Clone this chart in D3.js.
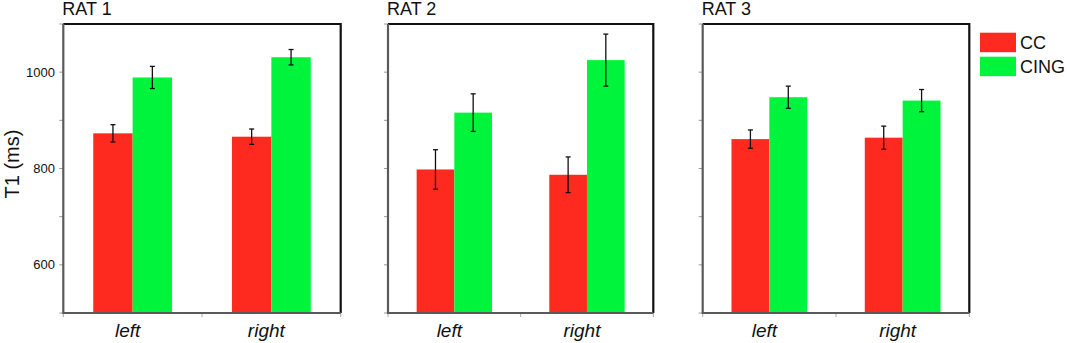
<!DOCTYPE html>
<html><head><meta charset="utf-8">
<script src="https://cdn.jsdelivr.net/npm/d3@7"></script>
<style>body{margin:0;background:#fff}svg{display:block;font-family:"Liberation Sans",Arial,sans-serif}</style>
</head><body><svg id="c" width="1067" height="343"></svg>
<script>
const panels = ["RAT 1", "RAT 2", "RAT 3"];
const categories = ["left", "right"];
const series = ["CC", "CING"];
const colors = ["#ff2a1f", "#00f43c"];
// values[panel][category][series]
const means = [
  [[873, 989], [866, 1031]],
  [[798, 916], [787, 1025]],
  [[861, 948], [864, 941]]
];
const errors = [
  [[18, 23], [16, 16]],
  [[41, 39], [37, 54]],
  [[19, 23], [24, 23]]
];
const yDomain = [500, 1100];
const yTicks = [500, 600, 700, 800, 900, 1000, 1100];
const yTickLabels = [600, 800, 1000];
const yLabel = "T1 (ms)";

const svg = d3.select("#c");
const panelX = [[63.3, 340.7], [388, 653.3], [702.7, 969.3]];
const plotTop = 24, plotBottom = 313;
const y = d3.scaleLinear().domain(yDomain).range([plotBottom, plotTop]);

panels.forEach((name, pi) => {
  const [x0p, x1p] = panelX[pi];
  const g = svg.append("g");
  const x0 = d3.scaleBand().domain(categories).range([x0p, x1p]).padding(0);
  const x1 = d3.scaleBand().domain(series).range([0, x0.bandwidth()]).paddingInner(0).paddingOuter(0.76);

  // y ticks
  g.selectAll(".yt").data(yTicks).enter().append("line")
    .attr("x1", x0p - 4).attr("x2", x0p).attr("y1", d => y(d)).attr("y2", d => y(d))
    .attr("stroke", "#999").attr("stroke-width", 1);
  if (pi === 0) {
    g.selectAll(".yl").data(yTickLabels).enter().append("text")
      .attr("x", 55).attr("y", d => y(d)).attr("dy", "0.35em")
      .attr("text-anchor", "end").attr("font-size", 13).attr("fill", "#111")
      .text(d => d);
    svg.append("text").attr("transform", `translate(19,164) rotate(-90)`)
      .attr("text-anchor", "middle").attr("font-size", 20).attr("fill", "#111").text(yLabel);
  }
  // x ticks
  const xt = [x0p, (x0p + x1p) / 2, x1p];
  g.selectAll(".xt").data(xt).enter().append("line")
    .attr("x1", d => d).attr("x2", d => d).attr("y1", plotBottom).attr("y2", plotBottom + 4)
    .attr("stroke", "#aaa").attr("stroke-width", 1);

  // bars
  categories.forEach((cat, ci) => {
    series.forEach((s, si) => {
      const v = means[pi][ci][si], e = errors[pi][ci][si];
      const bx = x0(cat) + x1(s), bw = x1.bandwidth();
      g.append("rect").attr("x", bx).attr("y", y(v)).attr("width", bw).attr("height", y(yDomain[0]) - y(v))
        .attr("fill", colors[si]);
      const cx = bx + bw / 2;
      g.append("line").attr("x1", cx).attr("x2", cx).attr("y1", y(v + e)).attr("y2", y(v - e))
        .attr("stroke", "#111").attr("stroke-width", 1.3);
      [v + e, v - e].forEach(t => g.append("line").attr("x1", cx - 2.5).attr("x2", cx + 2.5)
        .attr("y1", y(t)).attr("y2", y(t)).attr("stroke", "#111").attr("stroke-width", 1.3));
    });
    g.append("text").attr("x", x0(cat) + x0.bandwidth() / 2 - 5).attr("y", 337)
      .attr("text-anchor", "middle").attr("font-size", 19).attr("font-style", "italic")
      .attr("fill", "#111").text(cat);
  });

  // frame
  g.append("path").attr("d", `M${x0p},${plotTop}H${x1p}V${plotBottom}`).attr("fill", "none")
    .attr("stroke", "#111").attr("stroke-width", 2.2);
  g.append("path").attr("d", `M${x0p},${plotTop}V${plotBottom}H${x1p}`).attr("fill", "none")
    .attr("stroke", "#5a5a5a").attr("stroke-width", 2.2);

  g.append("text").attr("x", x0p - 1).attr("y", 14.5).attr("font-size", 18).attr("fill", "#111").text(name);
});

// legend
const lg = svg.append("g");
series.forEach((s, i) => {
  lg.append("rect").attr("x", 980).attr("y", 32.7 + i * 24).attr("width", 36).attr("height", 19.5)
    .attr("fill", colors[i]);
  lg.append("text").attr("x", 1020).attr("y", 49 + i * 24).attr("font-size", 18).attr("fill", "#111").text(s);
});
</script></body></html>
